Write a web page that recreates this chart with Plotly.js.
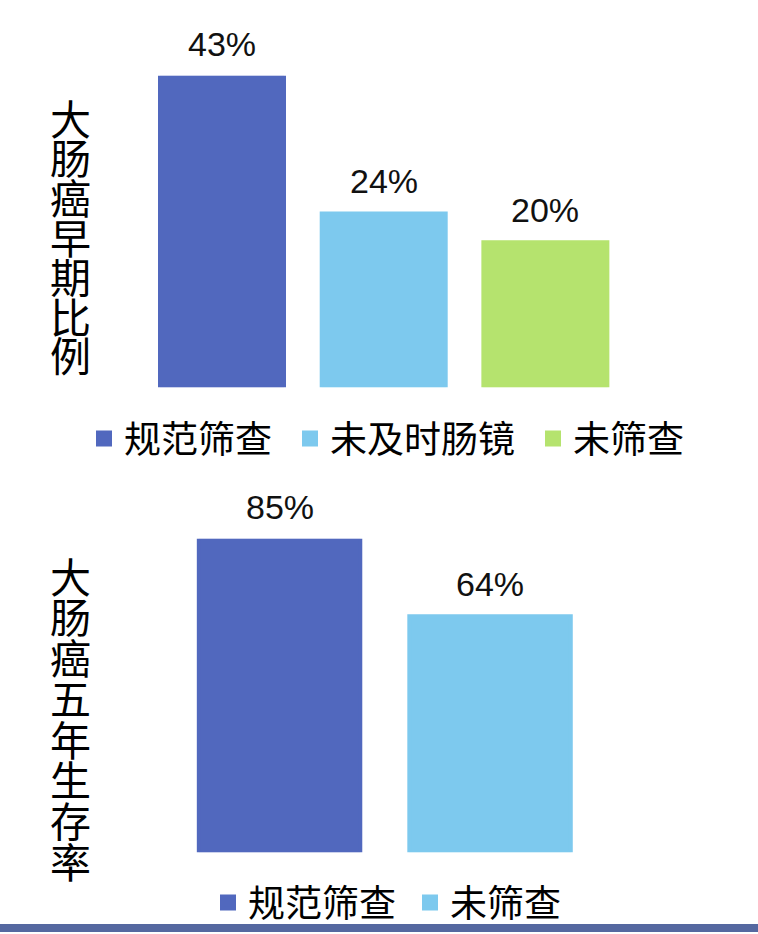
<!DOCTYPE html>
<html>
<head>
<meta charset="utf-8">
<script src="https://cdn.plot.ly/plotly-3.0.1.min.js"></script>
<style>
  html, body { margin: 0; padding: 0; background: #fff; }
  #chart { width: 758px; height: 934px; }
</style>
</head>
<body>
<div id="chart"></div>
<script>
// 上图：大肠癌早期比例
var topCats = ['规范筛查', '未及时肠镜', '未筛查'];
var topVals = [43, 24, 20];
var topColors = ['#5168BE', '#7DC9EE', '#B5E36E'];
var topTitle = '大肠癌早期比例';

// 下图：大肠癌五年生存率
var botCats = ['规范筛查', '未筛查'];
var botVals = [85, 64];
var botColors = ['#5168BE', '#7DC9EE'];
var botTitle = '大肠癌五年生存率';

var W = 758, H = 934;
function px(p) { return p / W; }
function py(p) { return 1 - p / H; }

var cjk = '"Noto Sans CJK SC", "Noto Sans", sans-serif';
var latin = '"Liberation Sans", Arial, sans-serif';

// 图例方块左边位置（像素），每项单独一个图例
var topLegendX = [98, 304, 547];
var botLegendX = [222, 424];

var data = [];
var layout = {
    width: W,
    height: H,
    margin: { l: 0, r: 0, t: 0, b: 0 },
    paper_bgcolor: '#fff',
    plot_bgcolor: '#fff',
    barmode: 'overlay',
    showlegend: true
};

function legendAt(name, leftPx, midPx) {
    layout[name] = {
        orientation: 'h', x: px(leftPx - 14), xanchor: 'left',
        y: py(midPx), yanchor: 'middle',
        font: { family: cjk, size: 37, color: '#000' },
        bgcolor: 'rgba(0,0,0,0)', borderwidth: 0
    };
}

var n = 1;
topCats.forEach(function (c, i) {
    var lg = n === 1 ? 'legend' : 'legend' + n;
    legendAt(lg, topLegendX[i], 440);
    data.push({
        type: 'bar',
        x: [c],
        y: [topVals[i]],
        name: c,
        width: 0.767,
        marker: { color: topColors[i], line: { color: topColors[i], width: 4 } },
        xaxis: 'x',
        yaxis: 'y',
        legend: lg,
        hoverinfo: 'skip'
    });
    n++;
});
botCats.forEach(function (c, i) {
    var lg = 'legend' + n;
    legendAt(lg, botLegendX[i], 905);
    data.push({
        type: 'bar',
        x: [c],
        y: [botVals[i]],
        name: c,
        width: 0.767,
        marker: { color: botColors[i], line: { color: botColors[i], width: 4 } },
        xaxis: 'x2',
        yaxis: 'y2',
        legend: lg,
        hoverinfo: 'skip'
    });
    n++;
});

var annotations = [];
// 数值标签
topCats.forEach(function (c, i) {
    annotations.push({
        xref: 'x', yref: 'y', x: c, y: topVals[i],
        text: topVals[i] + '%', showarrow: false,
        yanchor: 'bottom', yshift: 11,
        font: { family: latin, size: 34, color: '#111' }
    });
});
botCats.forEach(function (c, i) {
    annotations.push({
        xref: 'x2', yref: 'y2', x: c, y: botVals[i],
        text: botVals[i] + '%', showarrow: false,
        yanchor: 'bottom', yshift: 11,
        font: { family: latin, size: 34, color: '#111' }
    });
});
// 竖排标题，一字一行
function vtitle(str, firstCenter, pitch) {
    Array.from(str).forEach(function (ch, i) {
        annotations.push({
            xref: 'paper', yref: 'paper',
            x: px(70), y: py(firstCenter + i * pitch),
            xanchor: 'center', yanchor: 'middle',
            text: ch, showarrow: false,
            font: { family: cjk, size: 41, color: '#000' }
        });
    });
}
vtitle(topTitle, 117, 39.7);
vtitle(botTitle, 576, 40.8);

var hidden = {
    showgrid: false, zeroline: false, showline: false,
    showticklabels: false, ticks: '', fixedrange: true
};

layout.xaxis = Object.assign({ domain: [px(141.2), px(626.2)], range: [-0.5, 2.5], anchor: 'y' }, hidden);
layout.yaxis = Object.assign({ domain: [py(388), py(76)], range: [0, 43], anchor: 'x' }, hidden);
layout.xaxis2 = Object.assign({ domain: [px(174.3), px(595.3)], range: [-0.5, 1.5], anchor: 'y2' }, hidden);
layout.yaxis2 = Object.assign({ domain: [py(854), py(540)], range: [0, 85], anchor: 'x2' }, hidden);
layout.annotations = annotations;
layout.shapes = [{
    type: 'rect', xref: 'paper', yref: 'paper',
    x0: 0, x1: 1, y0: 0, y1: py(926),
    fillcolor: '#5568A0', line: { width: 0 }
}];

Plotly.newPlot('chart', data, layout, { displayModeBar: false, staticPlot: true });
</script>
</body>
</html>
